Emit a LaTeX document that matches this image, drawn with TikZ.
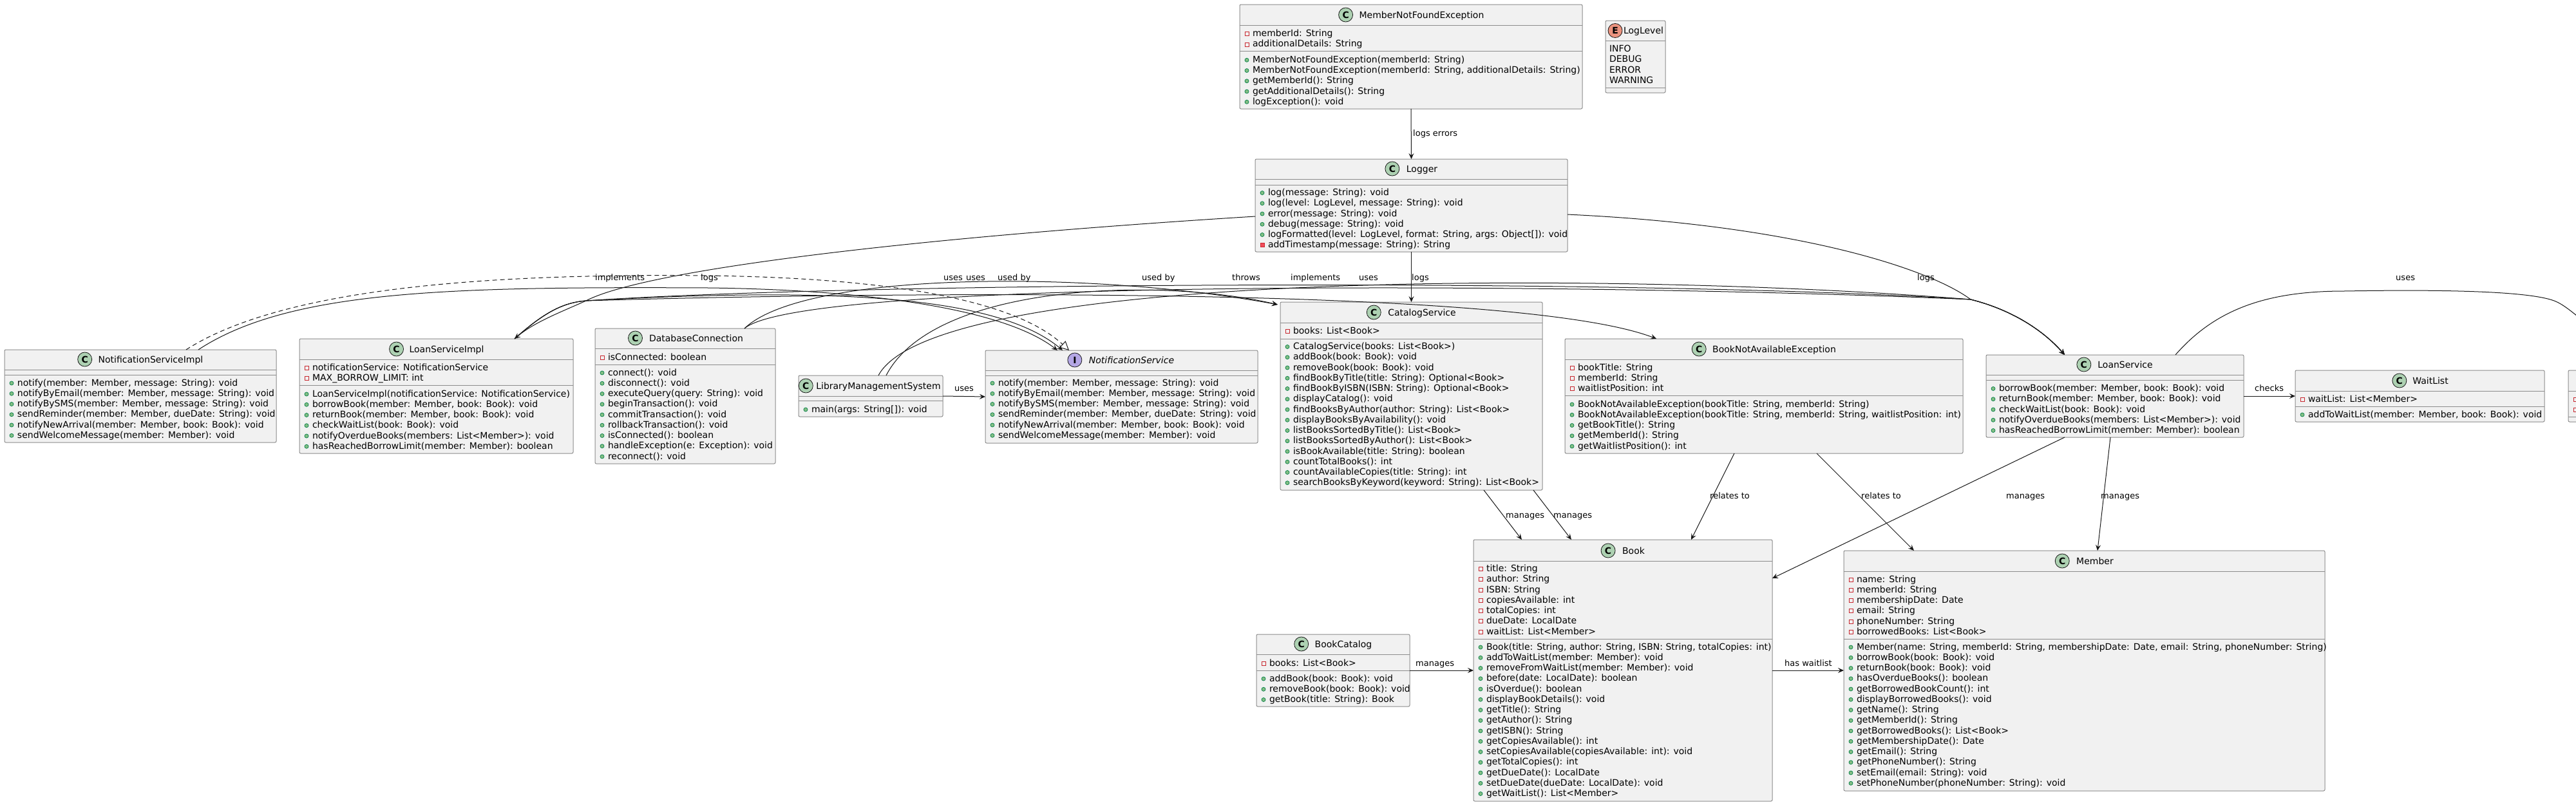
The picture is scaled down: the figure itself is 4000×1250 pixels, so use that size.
\documentclass[tikz,border=0pt]{standalone}
\usepackage{fontspec}
\setmainfont{DejaVu Sans}
\usetikzlibrary{arrows.meta,calc}
\definecolor{boxfill}{HTML}{F1F1F1}
\definecolor{boxline}{HTML}{8C8C8C}
\definecolor{cgreen}{HTML}{ADD1B2}
\definecolor{eorange}{HTML}{EB937F}
\definecolor{ipurple}{HTML}{B4A7E5}
\definecolor{privred}{HTML}{C82930}
\definecolor{privfill}{HTML}{F24D5C}
\definecolor{pubgreen}{HTML}{038048}
\definecolor{pubfill}{HTML}{84BE84}
\definecolor{edgecol}{HTML}{181818}
\newcounter{rowc}
\tikzset{
  classbox/.style={draw=boxline, fill=boxfill, line width=1pt, rounded corners=2pt, inner sep=0pt, outer sep=0pt, anchor=north west},
  sepline/.style={draw=boxline, line width=1pt},
  rowtext/.style={anchor=base west, inner sep=0pt, outer sep=0pt, font=\fontsize{14}{16}\selectfont},
  titletext/.style={anchor=base, inner sep=0pt, outer sep=0pt, font=\fontsize{14}{16}\selectfont},
  badge/.style={circle, draw=edgecol, line width=0.8pt, minimum size=22pt, inner sep=0pt, font=\bfseries\fontsize{14}{14}\selectfont},
  lbl/.style={anchor=base west, inner sep=0pt, font=\fontsize{13}{15}\selectfont},
  conn/.style={draw=edgecol, line width=1pt},
  arr/.style={conn, -{Stealth[length=9pt,width=8pt,inset=3.5pt]}},
  realize/.style={conn, dash pattern=on 7pt off 5pt, -{Triangle[open,length=14pt,width=14pt,fill=white]}},
}
\newcommand\umlbox[5]{%
  \pgfmathsetmacro\bw{#4-#2}\pgfmathsetmacro\bh{#5-#3}%
  \xdef\bxa{#2}\xdef\bxb{#4}%
  \node[classbox, minimum width=\bw pt, minimum height=\bh pt] (#1) at (#2,#3) {};}
\newcommand\umlsep[1]{\draw[sepline] (\bxa,#1) -- (\bxb,#1);}
% name, text centre x, y, letter, colour, badge offset, text
\newcommand\umltitle[7]{%
  \node[titletext] (#1) at (#2,#3+5) {#7};
  \node[badge, fill=#5] (#1b) at ($(#1.base west)+(-#6,-5)$) {#4};}
\newcommand\rowsat[2]{\xdef\rx{#1}\xdef\ry{#2}}
\newcommand\advrow{\pgfmathsetmacro\tmpy{\ry+16.25}\xdef\ry{\tmpy}}
\newcommand\pubrow[1]{\stepcounter{rowc}%
  \fill[pubfill, draw=pubgreen, line width=.7pt] (\rx+11,\ry+1) circle (3pt);
  \node[rowtext] (r\arabic{rowc}) at (\rx+20,\ry+5) {#1};\advrow}
\newcommand\prvrow[1]{\stepcounter{rowc}%
  \draw[privred, line width=.8pt] (\rx+8,\ry-2) rectangle (\rx+14,\ry+4);
  \node[rowtext] (r\arabic{rowc}) at (\rx+20,\ry+5) {#1};\advrow}
\newcommand\prvmrow[1]{\stepcounter{rowc}%
  \filldraw[fill=privfill, draw=privred, line width=.8pt] (\rx+8,\ry-2) rectangle (\rx+14,\ry+4);
  \node[rowtext] (r\arabic{rowc}) at (\rx+20,\ry+5) {#1};\advrow}
\newcommand\plainrow[1]{\stepcounter{rowc}%
  \node[rowtext] (r\arabic{rowc}) at (\rx+6,\ry+5) {#1};\advrow}
\begin{document}
\begin{tikzpicture}[x=1pt,y=-1pt]
\fill[white] (0,0) rectangle (4000,1250);
\useasboundingbox (0,0) rectangle (4000,1250);

% MemberNotFoundException
\umlbox{mnfe}{1925}{7}{2457}{169}
\umltitle{mnfeT}{2207.5}{23}{C}{cgreen}{21}{MemberNotFoundException}
\umlsep{39}\umlsep{79}
\rowsat{1925}{51.7}
\prvrow{memberId: String}
\prvrow{additionalDetails: String}
\rowsat{1925}{92.3}
\pubrow{MemberNotFoundException(memberId: String)}
\pubrow{MemberNotFoundException(memberId: String, additionalDetails: String)}
\pubrow{getMemberId(): String}
\pubrow{getAdditionalDetails(): String}
\pubrow{logException(): void}

% LogLevel
\umlbox{loglevel}{2493}{32}{2586}{144}
\umltitle{loglevelT}{2552}{47.5}{E}{eorange}{13}{LogLevel}
\umlsep{63}\umlsep{136}
\rowsat{2493}{75.5}
\plainrow{INFO}
\plainrow{DEBUG}
\plainrow{ERROR}
\plainrow{WARNING}

% Logger
\umlbox{logger}{1949}{247}{2434}{391}
\umltitle{loggerT}{2208}{262}{C}{cgreen}{22}{Logger}
\umlsep{278}\umlsep{287}
\rowsat{1949}{298.5}
\pubrow{log(message: String): void}
\pubrow{log(level: LogLevel, message: String): void}
\pubrow{error(message: String): void}
\pubrow{debug(message: String): void}
\pubrow{logFormatted(level: LogLevel, format: String, args: Object[]): void}
\prvmrow{addTimestamp(message: String): String}

% NotificationServiceImpl
\umlbox{nsi}{7}{543}{429}{687}
\umltitle{nsiT}{234}{558}{C}{cgreen}{21}{NotificationServiceImpl}
\umlsep{574}\umlsep{582}
\rowsat{7}{594}
\pubrow{notify(member: Member, message: String): void}
\pubrow{notifyByEmail(member: Member, message: String): void}
\pubrow{notifyBySMS(member: Member, message: String): void}
\pubrow{sendReminder(member: Member, dueDate: String): void}
\pubrow{notifyNewArrival(member: Member, book: Book): void}
\pubrow{sendWelcomeMessage(member: Member): void}

% LoanServiceImpl
\umlbox{lsi}{465}{526}{890}{704}
\umltitle{lsiT}{693.5}{542}{C}{cgreen}{20}{LoanServiceImpl}
\umlsep{558}\umlsep{598}
\rowsat{465}{570}
\prvrow{notificationService: NotificationService}
\prvrow{MAX\_BORROW\_LIMIT: int}
\rowsat{465}{611}
\pubrow{LoanServiceImpl(notificationService: NotificationService)}
\pubrow{borrowBook(member: Member, book: Book): void}
\pubrow{returnBook(member: Member, book: Book): void}
\pubrow{checkWaitList(book: Book): void}
\pubrow{notifyOverdueBooks(members: List<Member>): void}
\pubrow{hasReachedBorrowLimit(member: Member): boolean}

% DatabaseConnection
\umlbox{dbc}{924}{510}{1204}{720}
\umltitle{dbcT}{1081}{525}{C}{cgreen}{21.5}{DatabaseConnection}
\umlsep{541}\umlsep{566}
\rowsat{924}{554}
\prvrow{isConnected: boolean}
\rowsat{924}{578}
\pubrow{connect(): void}
\pubrow{disconnect(): void}
\pubrow{executeQuery(query: String): void}
\pubrow{beginTransaction(): void}
\pubrow{commitTransaction(): void}
\pubrow{rollbackTransaction(): void}
\pubrow{isConnected(): boolean}
\pubrow{handleException(e: Exception): void}
\pubrow{reconnect(): void}

% LibraryManagementSystem
\umlbox{lms}{1240}{583}{1464}{647}
\umltitle{lmsT}{1364}{599}{C}{cgreen}{16}{LibraryManagementSystem}
\umlsep{615}\umlsep{622}
\rowsat{1240}{635}
\pubrow{main(args: String[]): void}

% NotificationService
\umlbox{ns}{1530}{544}{1953}{688}
\umltitle{nsT}{1757}{559}{I}{ipurple}{22}{\itshape NotificationService}
\umlsep{575}\umlsep{583}
\rowsat{1530}{594}
\pubrow{notify(member: Member, message: String): void}
\pubrow{notifyByEmail(member: Member, message: String): void}
\pubrow{notifyBySMS(member: Member, message: String): void}
\pubrow{sendReminder(member: Member, dueDate: String): void}
\pubrow{notifyNewArrival(member: Member, book: Book): void}
\pubrow{sendWelcomeMessage(member: Member): void}

% CatalogService
\umlbox{cs}{1988}{469}{2395}{761}
\umltitle{csT}{2208}{485}{C}{cgreen}{22}{CatalogService}
\umlsep{501}\umlsep{526}
\rowsat{1988}{513}
\prvrow{books: List<Book>}
\rowsat{1988}{537.5}
\pubrow{CatalogService(books: List<Book>)}
\pubrow{addBook(book: Book): void}
\pubrow{removeBook(book: Book): void}
\pubrow{findBookByTitle(title: String): Optional<Book>}
\pubrow{findBookByISBN(ISBN: String): Optional<Book>}
\pubrow{displayCatalog(): void}
\pubrow{findBooksByAuthor(author: String): List<Book>}
\pubrow{displayBooksByAvailability(): void}
\pubrow{listBooksSortedByTitle(): List<Book>}
\pubrow{listBooksSortedByAuthor(): List<Book>}
\pubrow{isBookAvailable(title: String): boolean}
\pubrow{countTotalBooks(): int}
\pubrow{countAvailableCopies(title: String): int}
\pubrow{searchBooksByKeyword(keyword: String): List<Book>}

% BookNotAvailableException
\umlbox{bnae}{2430}{526}{3048}{704}
\umltitle{bnaeT}{2755}{542}{C}{cgreen}{21}{BookNotAvailableException}
\umlsep{558}\umlsep{614}
\rowsat{2430}{570}
\prvrow{bookTitle: String}
\prvrow{memberId: String}
\prvrow{waitlistPosition: int}
\rowsat{2430}{627}
\pubrow{BookNotAvailableException(bookTitle: String, memberId: String)}
\pubrow{BookNotAvailableException(bookTitle: String, memberId: String, waitlistPosition: int)}
\pubrow{getBookTitle(): String}
\pubrow{getMemberId(): String}
\pubrow{getWaitlistPosition(): int}

% LoanService
\umlbox{ls}{3084}{551}{3484}{679}
\umltitle{lsT}{3300}{566}{C}{cgreen}{21.5}{LoanService}
\umlsep{582}\umlsep{590}
\rowsat{3084}{602.5}
\pubrow{borrowBook(member: Member, book: Book): void}
\pubrow{returnBook(member: Member, book: Book): void}
\pubrow{checkWaitList(book: Book): void}
\pubrow{notifyOverdueBooks(members: List<Member>): void}
\pubrow{hasReachedBorrowLimit(member: Member): boolean}

% WaitList
\umlbox{wl}{3564}{575}{3951}{655}
\umltitle{wlT}{3774}{591}{C}{cgreen}{20.5}{WaitList}
\umlsep{607}\umlsep{631}
\rowsat{3564}{619}
\prvrow{waitList: List<Member>}
\rowsat{3564}{643}
\pubrow{addToWaitList(member: Member, book: Book): void}

% class cut off at the right edge
\umlbox{xcls}{3988}{575}{4300}{655}
\umlsep{607}\umlsep{647}
\draw[privred, line width=.8pt] (3996,617) rectangle (4002,623);
\draw[privred, line width=.8pt] (3996,633) rectangle (4002,639);

% Book
\umlbox{book}{2288}{838}{2752}{1244}
\umltitle{bookT}{2536.5}{855}{C}{cgreen}{22}{Book}
\umlsep{871}\umlsep{992}
\rowsat{2288}{882.5}
\prvrow{title: String}
\prvrow{author: String}
\prvrow{ISBN: String}
\prvrow{copiesAvailable: int}
\prvrow{totalCopies: int}
\prvrow{dueDate: LocalDate}
\prvrow{waitList: List<Member>}
\rowsat{2288}{1004}
\pubrow{Book(title: String, author: String, ISBN: String, totalCopies: int)}
\pubrow{addToWaitList(member: Member): void}
\pubrow{removeFromWaitList(member: Member): void}
\pubrow{before(date: LocalDate): boolean}
\pubrow{isOverdue(): boolean}
\pubrow{displayBookDetails(): void}
\pubrow{getTitle(): String}
\pubrow{getAuthor(): String}
\pubrow{getISBN(): String}
\pubrow{getCopiesAvailable(): int}
\pubrow{setCopiesAvailable(copiesAvailable: int): void}
\pubrow{getTotalCopies(): int}
\pubrow{getDueDate(): LocalDate}
\pubrow{setDueDate(dueDate: LocalDate): void}
\pubrow{getWaitList(): List<Member>}

% Member
\umlbox{member}{2863}{855}{3610}{1228}
\umltitle{memberT}{3253}{871}{C}{cgreen}{22}{Member}
\umlsep{887}\umlsep{992}
\rowsat{2863}{899}
\prvrow{name: String}
\prvrow{memberId: String}
\prvrow{membershipDate: Date}
\prvrow{email: String}
\prvrow{phoneNumber: String}
\prvrow{borrowedBooks: List<Book>}
\rowsat{2863}{1004}
\pubrow{Member(name: String, memberId: String, membershipDate: Date, email: String, phoneNumber: String)}
\pubrow{borrowBook(book: Book): void}
\pubrow{returnBook(book: Book): void}
\pubrow{hasOverdueBooks(): boolean}
\pubrow{getBorrowedBookCount(): int}
\pubrow{displayBorrowedBooks(): void}
\pubrow{getName(): String}
\pubrow{getMemberId(): String}
\pubrow{getBorrowedBooks(): List<Book>}
\pubrow{getMembershipDate(): Date}
\pubrow{getEmail(): String}
\pubrow{getPhoneNumber(): String}
\pubrow{setEmail(email: String): void}
\pubrow{setPhoneNumber(phoneNumber: String): void}

% BookCatalog
\umlbox{bc}{1951}{985}{2189}{1097}
\umltitle{bcT}{2086}{1000}{C}{cgreen}{21}{BookCatalog}
\umlsep{1016}\umlsep{1041}
\rowsat{1951}{1029}
\prvrow{books: List<Book>}
\rowsat{1951}{1053}
\pubrow{addBook(book: Book): void}
\pubrow{removeBook(book: Book): void}
\pubrow{getBook(title: String): Book}

% ---------- connectors ----------
\draw[arr] (mnfe.south) -- (logger.north);
\node[lbl] (l1) at (2194,211.5) {logs errors};
\draw[arr] (logger.south) -- (cs.north);
\node[lbl] (l2) at (2192,435.5) {logs};
\draw[arr] (lms.east) -- (ns.west);
\node[lbl] (l3) at (1482,607.5) {uses};
\draw[arr] (ls.east) -- (wl.west);
\node[lbl] (l4) at (3501,607.5) {checks};
\draw[arr] (book.east) -- (member.west |- book.east);
\node[lbl] (l5) at (2771,1034.5) {has waitlist};
\draw[arr] (bc.east |- book.east) -- (book.west);
\node[lbl] (l6) at (2198,1034.5) {manages};
\draw[arr] ($(cs.south west)+(316,0)$) -- ($(book.north west)+(75,0)$);
\node[lbl] (l7) at (2338,804.5) {manages};
\draw[arr] ($(cs.south west)+(393,0)$) -- ($(book.north west)+(152,0)$);
\node[lbl] (l8) at (2412,804.5) {manages};
\draw[arr] ($(bnae.south west)+(263,0)$) -- ($(book.north west)+(338,0)$);
\node[lbl] (l9) at (2655,774.5) {relates to};
\draw[arr] ($(bnae.south west)+(391,0)$) -- ($(member.north west)+(109,0)$);
\node[lbl] (l10) at (2890,774.5) {relates to};
\draw[arr] ($(ls.south west)+(122,0)$) -- ($(book.north east)+(0,60)$);
\node[lbl] (l11) at (3115,774.5) {manages};
\draw[arr] ($(ls.south west)+(193,0)$) -- ($(member.north west)+(394,0)$);
\node[lbl] (l12) at (3262,774.5) {manages};
\draw[arr] ($(ls.north west)+(294,0)$) .. controls (3440,480) and (3520,452) .. (3640,452) .. controls (3760,450) and (3920,450) .. (3966,467) .. controls (4000,480) and (4030,530) .. (xcls.north);
\node[lbl] (l13) at (3720,435.5) {uses};

% tangle
\coordinate (cL) at (910,467);
\coordinate (cR) at (3060,465);
\draw[realize] ($(nsi.north west)+(282,0)$) .. controls (450,440) and (800,425) .. (1100,428) .. controls (1400,432) and (1580,470) .. ($(ns.north west)+(130,0)$);
\node[lbl] (l14) at (924,435.5) {implements};
\draw[arr] ($(nsi.north west)+(301,0)$) .. controls (450,450) and (700,445) .. (1100,447) .. controls (1350,450) and (1560,480) .. ($(ns.north west)+(112,0)$);
\draw[arr] ($(logger.north west)+(0,89)$) .. controls (1400,370) and (1000,420) .. (cL) .. controls (870,485) and (830,500) .. ($(lsi.north west)+(334,0)$);
\node[lbl] (l15) at (1088,435.5) {logs};
\draw[arr] ($(lsi.north west)+(334,0)$) .. controls (840,490) and (870,470) .. (cL) .. controls (1300,440) and (2500,430) .. (cR) .. controls (3120,480) and (3170,510) .. ($(ls.north west)+(122,0)$);
\node[lbl] (l16) at (2004,435.5) {implements};
\draw[arr] ($(lsi.north west)+(334,0)$) .. controls (840,490) and (870,470) .. (cL) .. controls (1300,455) and (2350,440) .. ($(bnae.north west)+(142,0)$);
\node[lbl] (l17) at (1913,435.5) {throws};
\draw[arr] ($(lsi.north west)+(334,0)$) .. controls (840,490) and (870,470) .. (cL) .. controls (1300,445) and (1550,460) .. ($(ns.north west)+(120,0)$);
\node[lbl] (l18) at (1465,435.5) {uses};
\node[lbl] (l19) at (1500,435.5) {uses};
\draw[arr] ($(dbc.north west)+(232,0)$) .. controls (1250,420) and (1700,420) .. ($(cs.north west)+(-4,4)$);
\node[lbl] (l20) at (1549,435.5) {used by};
\draw[arr] ($(dbc.north west)+(232,0)$) .. controls (1250,430) and (2500,440) .. (cR) .. controls (3120,480) and (3170,510) .. ($(ls.north west)+(122,0)$);
\node[lbl] (l21) at (1773,435.5) {used by};
\draw[arr] ($(lms.north west)+(136,0)$) .. controls (1450,440) and (1800,430) .. ($(cs.north west)+(-4,4)$);
\draw[arr] ($(lms.north west)+(124,0)$) .. controls (1450,420) and (2500,420) .. (cR) .. controls (3120,480) and (3170,510) .. ($(ls.north west)+(122,0)$);
\node[lbl] (l22) at (2110,435.5) {uses};
\draw[arr] ($(logger.north east)+(0,86)$) .. controls (2800,350) and (3000,420) .. (cR) .. controls (3120,480) and (3170,510) .. ($(ls.north west)+(122,0)$);
\node[lbl] (l23) at (2977,435.5) {logs};
\end{tikzpicture}
\end{document}
